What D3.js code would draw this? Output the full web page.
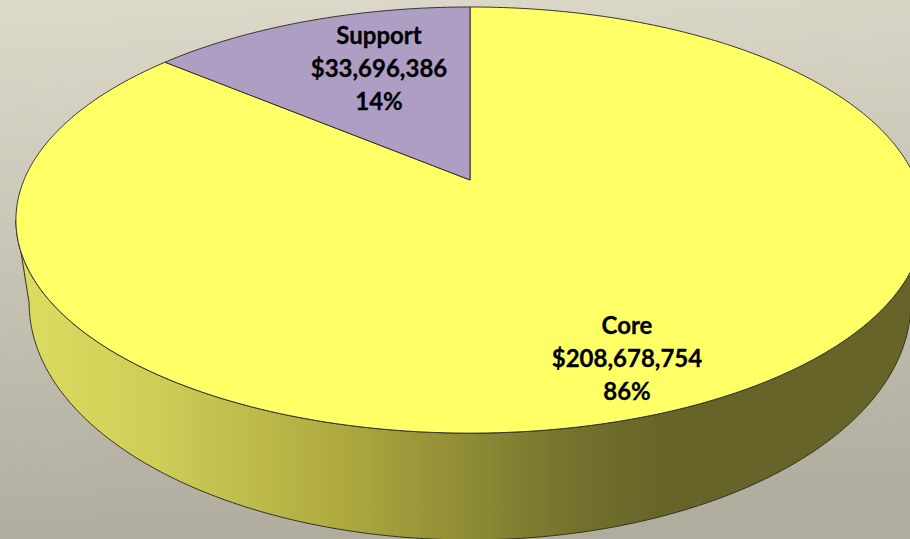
<!DOCTYPE html>
<html>
<head>
  <meta charset="utf-8">
  <title>Core and Support</title>
  <script src="https://cdn.jsdelivr.net/npm/d3@7"></script>
  <style>
    body { margin: 0; }
    svg { display: block; }
    text { font-family: Lato, "Open Sans", sans-serif; font-weight: bold; font-size: 24px; fill: #000; stroke: #000; stroke-width: 0.3px; }
  </style>
</head>
<body>
<svg id="chart" width="910" height="539"></svg>
<script>
var categories = ["Core", "Support"];
var values = [208678754, 33696386];
var percents = ["86%", "14%"];
var colors = ["#ffff66", "#ae9ec4"];

var width = 910, height = 539;
var svg = d3.select("#chart");
var defs = svg.append("defs");

var bg = defs.append("linearGradient").attr("id", "bg")
  .attr("x1", 0.1).attr("y1", 0).attr("x2", 0.2).attr("y2", 1);
bg.append("stop").attr("offset", 0).attr("stop-color", "#dcd9c9");
bg.append("stop").attr("offset", 1).attr("stop-color", "#b0ad9f");

var side = defs.append("linearGradient").attr("id", "side")
  .attr("gradientUnits", "userSpaceOnUse")
  .attr("x1", 20).attr("y1", 0).attr("x2", 660).attr("y2", 0);
side.append("stop").attr("offset", 0).attr("stop-color", "#dcdc60");
side.append("stop").attr("offset", 0.2).attr("stop-color", "#cfcf58");
side.append("stop").attr("offset", 0.5).attr("stop-color", "#aeaa40");
side.append("stop").attr("offset", 0.85).attr("stop-color", "#76742e");
side.append("stop").attr("offset", 1).attr("stop-color", "#666428");

svg.append("rect").attr("width", width).attr("height", height).attr("fill", "url(#bg)");

// tilted disc: unit circle seen in perspective, near side is bigger
var tilt = -0.188;
function project(rim) {
  return function(t) {
    var u = Math.sin(t), v = -Math.cos(t), w = 1 + tilt * v;
    return [rim.x(u / w), rim.y(v) ];
  };
}
function makeRim(cx, a, c, b) {
  return {
    x: d3.scaleLinear().domain([-1, 1]).range([cx - a, cx + a]),
    y: function(v) { return (c + b * v) / (1 + tilt * v); }
  };
}
var topRim = makeRim(470, 446, 180, 171.7);
var lowRim = makeRim(470, 433, 258.4, 180);
var topPt = project(topRim), lowPt = project(lowRim);

var line = d3.line();
function sweep(a0, a1, fn) {
  var n = Math.ceil(Math.abs(a1 - a0) / 0.01);
  return d3.range(n + 1).map(function(i) { return fn(a0 + (a1 - a0) * i / n); });
}

// wall of the disc, between the widest points of the two rims
var wall0 = Math.acos(tilt), wall1 = 2 * Math.PI - wall0;
svg.append("path")
  .attr("d", line(sweep(wall0, wall1, topPt).concat(sweep(wall1, wall0, lowPt))) + "Z")
  .attr("fill", "url(#side)")
  .attr("stroke", "#33331f").attr("stroke-width", 1);

var pie = d3.pie().sort(null);
var center = [topRim.x(0), topRim.y(0)];

svg.selectAll("path.slice")
  .data(pie(values))
  .enter().append("path")
  .attr("class", "slice")
  .attr("d", function(d) {
    return line([center].concat(sweep(d.startAngle, d.endAngle, topPt))) + "Z";
  })
  .attr("fill", function(d, i) { return colors[i]; })
  .attr("stroke", "#333").attr("stroke-width", 1)
  .attr("stroke-linejoin", "round");

var labelPos = [[627, 334], [379, 44]];
var money = d3.format("$,");
categories.forEach(function(name, i) {
  var lines = [name, money(values[i]), percents[i]];
  svg.append("g").selectAll("text")
    .data(lines)
    .enter().append("text")
    .attr("x", labelPos[i][0])
    .attr("y", function(d, j) { return labelPos[i][1] + j * 33; })
    .attr("text-anchor", "middle")
    .text(function(d) { return d; });
});
</script>
</body>
</html>
